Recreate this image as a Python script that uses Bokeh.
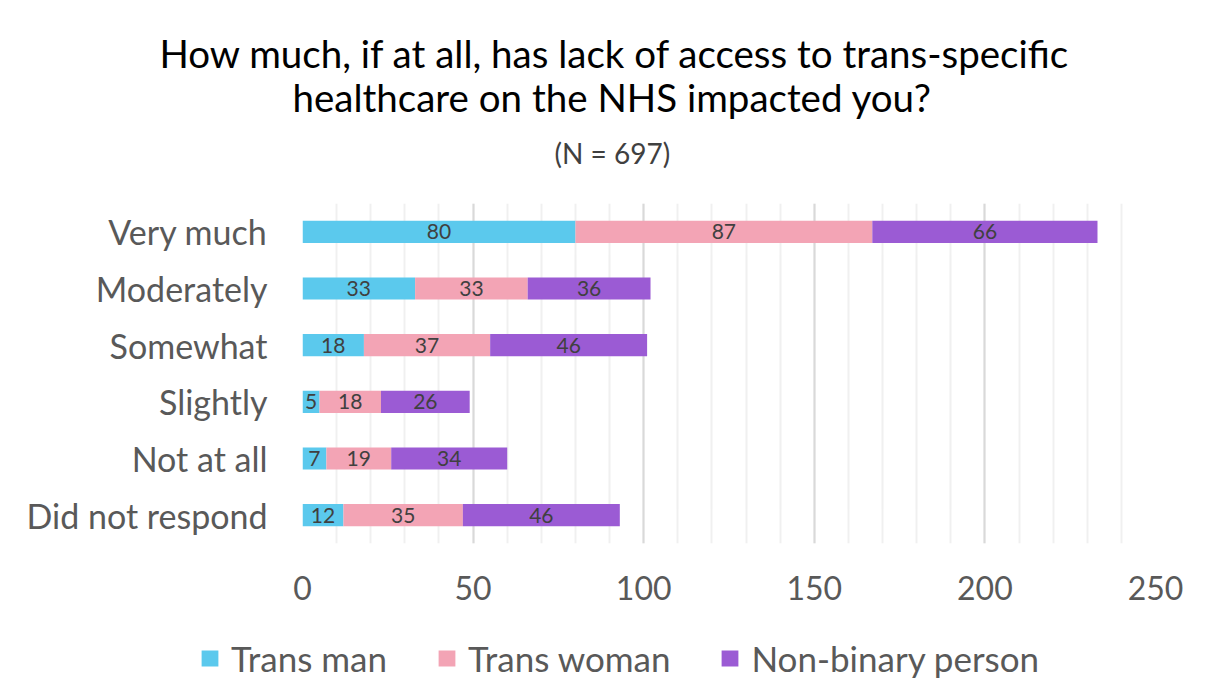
from bokeh.plotting import figure
from bokeh.models import (ColumnDataSource, FactorRange, Range1d, SingleIntervalTicker,
                          LabelSet, Legend, LegendItem, Title)
from bokeh.layouts import column, row
from bokeh.core.properties import value
from bokeh.embed import file_html
from bokeh.resources import INLINE
import numpy as np

categories = ["Very much", "Moderately", "Somewhat", "Slightly", "Not at all", "Did not respond"]
series_names = ["Trans man", "Trans woman", "Non-binary person"]
trans_man = [80, 33, 18, 5, 7, 12]
trans_woman = [87, 33, 37, 18, 19, 35]
non_binary = [66, 36, 46, 26, 34, 46]
x_ticks = [0, 50, 100, 150, 200, 250]

title_line1 = "How much, if at all, has lack of access to trans-specific"
title_line2 = "healthcare on the NHS impacted you?"
subtitle = "(N = 697)"

colors = ["#5BC9ED", "#F3A4B5", "#9B5BD4"]
FONT = "Lato"
keys = ["tm", "tw", "nb"]
W = 1194
MAIN_H = 613
LEG_H = 684 - MAIN_H

data = {"cat": categories, "tm": trans_man, "tw": trans_woman, "nb": non_binary}
source = ColumnDataSource(data)

p = figure(width=W, height=MAIN_H, output_backend="svg", toolbar_location=None,
           y_range=FactorRange(factors=list(reversed(categories))),
           x_range=Range1d(x_ticks[0], x_ticks[-1]),
           min_border_left=302, min_border_right=W - 1155, min_border_top=203,
           min_border_bottom=MAIN_H - 203 - 340)
p.outline_line_color = None

renderers = p.hbar_stack(keys, y="cat", height=0.39, color=colors, line_color=None, source=source)

vals = np.array([trans_man, trans_woman, non_binary], dtype=float)
cum = np.cumsum(vals, axis=0)
for i, k in enumerate(keys):
    mids = cum[i] - vals[i] / 2
    lsrc = ColumnDataSource(dict(x=mids, y=categories, t=[str(int(v)) for v in vals[i]]))
    p.add_layout(LabelSet(x="x", y="y", text="t", source=lsrc, text_align="center",
                          text_baseline="middle", text_font=value(FONT), text_font_size="21px",
                          text_color="#404040"))

p.xaxis.ticker = SingleIntervalTicker(interval=50, num_minor_ticks=5)
p.xaxis.axis_line_color = None
p.xaxis.major_tick_line_color = None
p.xaxis.minor_tick_line_color = None
p.xaxis.major_label_text_font = FONT
p.xaxis.major_label_text_font_size = "32px"
p.xaxis.major_label_text_color = "#595959"
p.xaxis.major_label_standoff = 26

p.yaxis.axis_line_color = None
p.yaxis.major_tick_line_color = None
p.yaxis.minor_tick_line_color = None
p.yaxis.major_label_text_font = FONT
p.yaxis.major_label_text_font_size = "34px"
p.yaxis.major_label_text_color = "#595959"
p.yaxis.major_label_standoff = 29

p.ygrid.grid_line_color = None
p.xgrid.grid_line_color = "#D9D9D9"
p.xgrid.grid_line_width = 2
p.xgrid.minor_grid_line_color = "#F0F0F0"
p.xgrid.minor_grid_line_width = 2

# titles: first added sits closest to the plot
t_sub = Title(text=subtitle, align="left", offset=252,
              text_font=FONT, text_font_size="28px", text_font_style="normal",
              text_color="#404040")
t_l2 = Title(text=title_line2, align="left", offset=-10,
             text_font=FONT, text_font_size="38.5px", text_font_style="normal",
             text_color="black")
t_l1 = Title(text=title_line1, align="left", offset=-143,
             text_font=FONT, text_font_size="38.5px", text_font_style="normal",
             text_color="black")
try:
    t_l2.standoff = -40
    t_sub.standoff = 68
    t_l1.standoff = 32
except Exception:
    t_sub.standoff = 44
    t_l2.standoff = 0
    t_l1.standoff = 0
p.add_layout(t_sub, "above")
p.add_layout(t_l2, "above")
p.add_layout(t_l1, "above")

# legend strip (separate svg figure, frame spanning its full width)
lf = figure(width=W, height=LEG_H, output_backend="svg", toolbar_location=None,
            x_range=Range1d(0, 1), y_range=Range1d(0, 1),
            x_axis_location=None, y_axis_location=None,
            min_border=0, outline_line_color=None)
lf.grid.visible = False
items = []
for n, c in zip(series_names, colors):
    r = lf.hbar(y=[-10], right=[-10], left=[-10], height=0.5, color=c, line_color=None)
    items.append(LegendItem(label=n, renderers=[r]))
legend = Legend(items=items, orientation="horizontal", location=(199, 5),
                label_text_font=FONT, label_text_font_size="35px", label_text_color="#595959",
                glyph_width=21, glyph_height=20, label_standoff=11, spacing=49,
                padding=0, margin=0, border_line_color=None, background_fill_alpha=0)
lf.add_layout(legend, "center")

layout = column(p, row(lf))
open("out.html", "w").write(file_html(layout, INLINE))
